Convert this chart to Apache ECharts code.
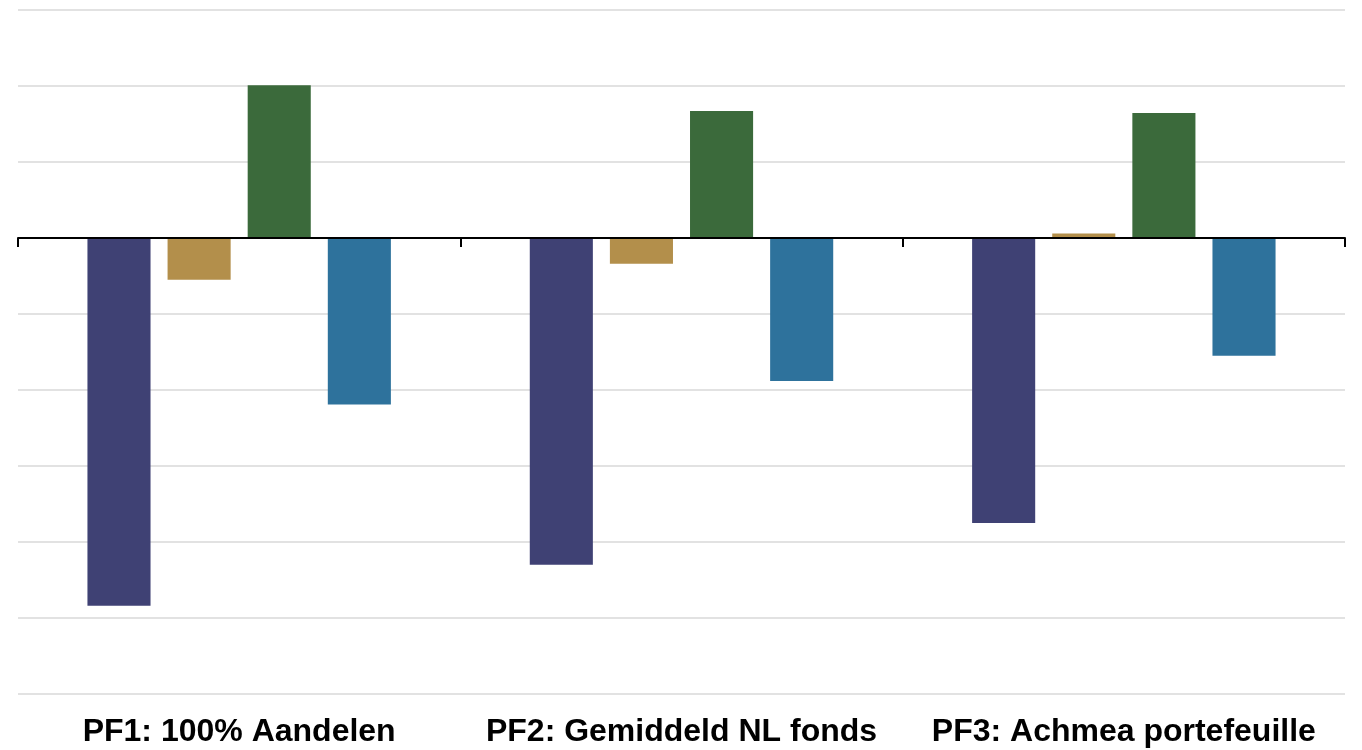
<!DOCTYPE html>
<html>
<head>
<meta charset="utf-8">
<script src="https://cdn.jsdelivr.net/npm/echarts@6/dist/echarts.min.js"></script>
<style>
html,body{margin:0;padding:0;background:#fff;}
#chart{width:1362px;height:750px;}
</style>
</head>
<body>
<div id="chart"></div>
<script>
var categories = ['PF1: 100% Aandelen', 'PF2: Gemiddeld NL fonds', 'PF3: Achmea portefeuille'];
var seriesA = [-4.84, -4.30, -3.75];
var seriesB = [-0.55, -0.34, 0.06];
var seriesC = [2.01, 1.67, 1.645];
var seriesD = [-2.19, -1.88, -1.55];
var colors = ['#3F4174', '#B38F4B', '#3B6A3B', '#2E729C'];
var yMin = -6, yMax = 3, yStep = 1;

var chart = echarts.init(document.getElementById('chart'), null, {renderer: 'canvas'});
function bar(name, data, color) {
  return {
    name: name, type: 'bar', data: data, xAxisIndex: 0,
    barGap: '27%', barCategoryGap: '31.4%',
    itemStyle: {color: color},
    emphasis: {disabled: true}
  };
}
chart.setOption({
  animation: false,
  backgroundColor: '#ffffff',
  grid: {left: 18, right: 17, top: 10, bottom: 56, containLabel: false},
  xAxis: [
    {
      type: 'category', data: categories, position: 'bottom',
      axisLine: {show: true, onZero: true, lineStyle: {color: '#000', width: 2}},
      axisTick: {show: true, length: 9, lineStyle: {color: '#000', width: 2}},
      axisLabel: {show: false},
      splitLine: {show: false}, z: 10
    },
    {
      type: 'category', data: categories, position: 'bottom',
      axisLine: {show: false, onZero: false},
      axisTick: {show: false},
      axisLabel: {show: true, interval: 0, margin: 22, color: '#000',
        fontFamily: 'Liberation Sans, Arial, sans-serif', fontWeight: 'bold', fontSize: 32},
      splitLine: {show: false}
    }
  ],
  yAxis: {
    type: 'value', min: yMin, max: yMax, interval: yStep,
    axisLine: {show: false}, axisTick: {show: false}, axisLabel: {show: false},
    splitLine: {show: true, lineStyle: {color: '#d9d9d9', width: 1.5}}
  },
  series: [
    bar('A', seriesA, colors[0]),
    bar('B', seriesB, colors[1]),
    bar('C', seriesC, colors[2]),
    bar('D', seriesD, colors[3])
  ]
});
</script>
</body>
</html>
